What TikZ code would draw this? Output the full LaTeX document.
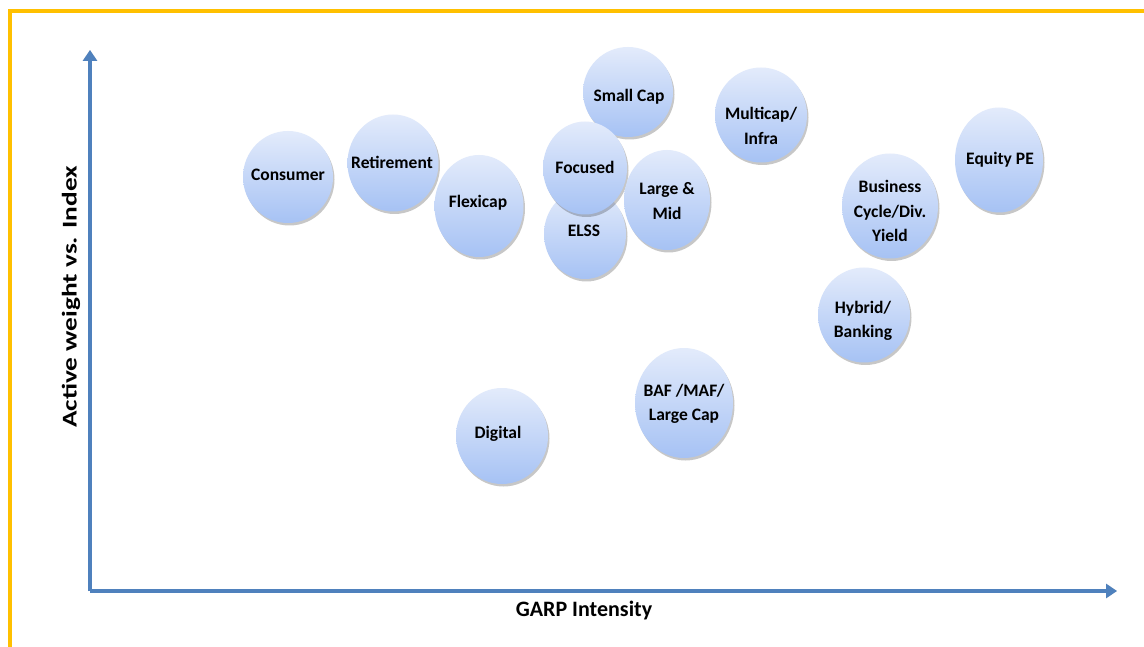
\documentclass[tikz,border=0pt]{standalone}
\usepackage{fontspec}
\setmainfont{Carlito}
\usetikzlibrary{shapes.geometric,shadows,arrows.meta}
\definecolor{frameyellow}{HTML}{FFC000}
\definecolor{axisblue}{HTML}{4F81BD}
\definecolor{ctop}{HTML}{E3EBFB}
\definecolor{cbot}{HTML}{A6C2F4}
\tikzset{
  bubble/.style={ellipse, inner sep=0pt, top color=ctop, bottom color=cbot, draw=none,
    drop shadow={shadow xshift=1.5pt, shadow yshift=-2.5pt, opacity=0.22, fill=black}},
  bubbletext/.style={align=center, inner sep=0pt, font=\bfseries\fontsize{17.5}{24.5}\selectfont, text=black},
  axis/.style={line width=4pt, draw=axisblue, -{Triangle[length=11pt,width=14pt]}},
  axisshadow/.style={line width=4pt, draw=black, opacity=0.18, -{Triangle[length=11pt,width=14pt]}},
  axislabel/.style={font=\bfseries\fontsize{22}{26}\selectfont, text=black, inner sep=0pt}
}
\begin{document}
\begin{tikzpicture}[x=1pt,y=-1pt]
\useasboundingbox (0,0) rectangle (1144,647);
\fill[white] (0,0) rectangle (1144,647);
% frame
\draw[frameyellow, line width=4pt] (9.5,647) -- (9.5,11) -- (1144,11);
% axes
\coordinate (origin) at (90,591);
\coordinate (ytip) at (90,50);
\coordinate (xtip) at (1117,591);
\draw[axisshadow, shift={(1.5,2.5)}] (origin) -- (ytip);
\draw[axisshadow, shift={(1.5,2.5)}] (origin) -- (xtip);
\draw[axis] (origin) -- (ytip);
\draw[axis] (origin) -- (xtip);
\node[axislabel] (xlabel) at (584,611) {GARP Intensity};
\node[axislabel, font=\bfseries\fontsize{21}{25}\selectfont, rotate=90] (ylabel) at (71,297) {\scalebox{1.3}[1]{Active weight vs. Index}};
% bubbles
\node[bubble, minimum width=90pt, minimum height=92pt] (consumer) at (288,177) {};
\node[bubble, minimum width=91pt, minimum height=97pt] (retirement) at (393,163) {};
\node[bubble, minimum width=89pt, minimum height=102pt] (flexicap) at (479,206) {};
\node[bubble, minimum width=90pt, minimum height=90pt] (smallcap) at (628,92) {};
\node[bubble, minimum width=82pt, minimum height=90pt] (elss) at (585,234) {};
\node[bubble, minimum width=84pt, minimum height=93pt] (focused) at (585,168) {};
\node[bubble, minimum width=86pt, minimum height=100pt] (largemid) at (667,200) {};
\node[bubble, minimum width=92pt, minimum height=95pt] (multicap) at (761,115) {};
\node[bubble, minimum width=96pt, minimum height=105pt] (business) at (890,206) {};
\node[bubble, minimum width=88pt, minimum height=105pt] (equity) at (999,160) {};
\node[bubble, minimum width=92pt, minimum height=95pt] (hybrid) at (864,315) {};
\node[bubble, minimum width=98pt, minimum height=110pt] (baf) at (684,403) {};
\node[bubble, minimum width=92pt, minimum height=96pt] (digital) at (502,436) {};
% bubble texts
\node[bubbletext] (consumerT) at (288,175) {Consumer};
\node[bubbletext] (retirementT) at (392,162) {Retirement};
\node[bubbletext] (flexicapT) at (478,203) {Flexicap};
\node[bubbletext] (smallcapT) at (629,97) {Small Cap};
\node[bubbletext] (elssT) at (584,231) {ELSS};
\node[bubbletext] (focusedT) at (585,167) {Focused};
\node[bubbletext] (largemidT) at (667,201) {Large \&\\Mid};
\node[bubbletext] (multicapT) at (761,126) {Multicap/\\Infra};
\node[bubbletext] (businessT) at (890,211) {Business\\Cycle/Div.\\Yield};
\node[bubbletext] (equityT) at (1000,160) {Equity PE};
\node[bubbletext] (hybridT) at (863,321) {Hybrid/\\Banking};
\node[bubbletext] (bafT) at (684,404) {BAF /MAF/\\Large Cap};
\node[bubbletext] (digitalT) at (498,434) {Digital};
\end{tikzpicture}
\end{document}
